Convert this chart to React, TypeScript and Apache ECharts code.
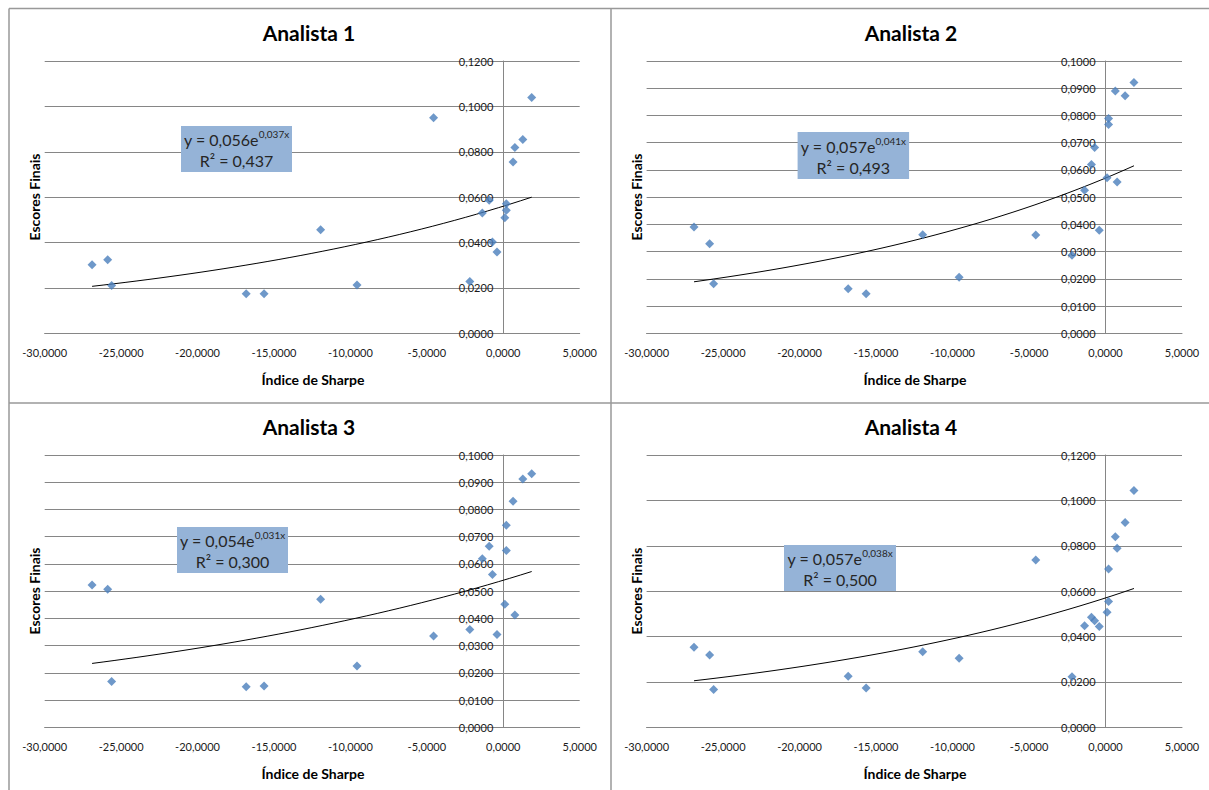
import React, { useEffect, useRef } from "react";
import * as echarts from "echarts";

// Índice de Sharpe of each fund (shared by the four panels)
const sharpe = [-26.9, -25.88, -25.62, -16.82, -15.65, -11.95, -9.57, -4.56, -2.19, -1.37, -0.92, -0.71, -0.41, 0.1, 0.2, 0.2, 0.64, 0.76, 1.28, 1.86];

// Escores finais per analyst
const analista1 = [0.0302, 0.0324, 0.0211, 0.0174, 0.0174, 0.0456, 0.0213, 0.095, 0.0228, 0.053, 0.0586, 0.0402, 0.0358, 0.0509, 0.0571, 0.0542, 0.0755, 0.0819, 0.0854, 0.1039];
const analista2 = [0.039, 0.0329, 0.0182, 0.0164, 0.0145, 0.0362, 0.0206, 0.0361, 0.0287, 0.0525, 0.062, 0.0682, 0.0378, 0.0571, 0.0789, 0.0767, 0.089, 0.0556, 0.0872, 0.0921];
const analista3 = [0.0523, 0.0507, 0.0168, 0.0149, 0.0152, 0.047, 0.0225, 0.0335, 0.0359, 0.0619, 0.0665, 0.0561, 0.0341, 0.0452, 0.0649, 0.0742, 0.083, 0.0412, 0.0912, 0.0931];
const analista4 = [0.0353, 0.0319, 0.0167, 0.0225, 0.0173, 0.0333, 0.0304, 0.0737, 0.0223, 0.0448, 0.0485, 0.047, 0.0444, 0.0507, 0.0554, 0.0698, 0.084, 0.0789, 0.0903, 0.1044];

const titles = ["Analista 1", "Analista 2", "Analista 3", "Analista 4"];
// exponential trendline y = a·e^(b·x), as printed in each chart
const trendA = [0.056, 0.057, 0.054, 0.057];
const trendB = [0.037, 0.041, 0.031, 0.038];
const trendAText = ["0,056", "0,057", "0,054", "0,057"];
const trendBText = ["0,037x", "0,041x", "0,031x", "0,038x"];
const r2Text = ["0,437", "0,493", "0,300", "0,500"];

// axis ranges
const xMin = -30;
const xMax = 5;
const xStep = 5;
const yMaxes = [0.12, 0.1, 0.1, 0.12];
const ySteps = [0.02, 0.01, 0.01, 0.02];

const series = [analista1, analista2, analista3, analista4];

const FONT = "Lato, 'Open Sans', sans-serif";

const fmt = (v: number) => v.toFixed(4).replace(".", ",");

export default function App() {
  const ref = useRef<HTMLDivElement>(null);
  useEffect(() => {
    document.body.style.margin = "0";
    if (!ref.current) return;
    const chart = echarts.init(ref.current, null, { renderer: "svg" });

    // layout of each panel (pixels)
    const gridPos = [
      { left: 44.7, top: 61, width: 535, height: 272.3 },
      { left: 646.6, top: 61, width: 535.4, height: 272.3 },
      { left: 44.7, top: 455, width: 535, height: 272.3 },
      { left: 646.6, top: 455, width: 535.4, height: 272.3 },
    ];
    const titlePos = [
      [309, 32],
      [911, 32],
      [309, 426],
      [911, 426],
    ];
    const xNamePos = [
      [313, 379],
      [915, 379],
      [313, 773],
      [915, 773],
    ];
    const yNamePos = [
      [34, 197],
      [636.6, 197],
      [34, 591],
      [636.6, 591],
    ];
    const boxPos = [
      [181, 126, 111, 46],
      [797.6, 132, 111.5, 47],
      [177, 527, 111, 46],
      [784, 545, 112, 46],
    ];

    const grids = gridPos.map((g) => ({ ...g, containLabel: false }));
    const xAxes = gridPos.map((_, i) => ({
      type: "value",
      gridIndex: i,
      min: xMin,
      max: xMax,
      interval: xStep,
      splitLine: { show: false },
      axisLine: { show: true, onZero: false, lineStyle: { color: "#868686", width: 1 } },
      axisTick: { show: false },
      axisLabel: {
        formatter: fmt,
        fontFamily: FONT,
        fontSize: 11,
        color: "#1a1a1a",
        margin: 14,
      },
    }));
    // the value axis crosses the x axis at 0: shift it from the grid's left edge
    const yAxes = gridPos.map((g, i) => ({
      type: "value",
      gridIndex: i,
      position: "left",
      offset: -(g.width * (0 - xMin)) / (xMax - xMin),
      min: 0,
      max: yMaxes[i],
      interval: ySteps[i],
      splitLine: { show: true, lineStyle: { color: "#868686", width: 1 } },
      axisLine: { show: true, onZero: false, lineStyle: { color: "#868686", width: 1 } },
      axisTick: { show: false },
      axisLabel: {
        formatter: fmt,
        fontFamily: FONT,
        fontSize: 11,
        color: "#1a1a1a",
        margin: 10,
      },
    }));

    const allSeries: any[] = [];
    series.forEach((ys, i) => {
      allSeries.push({
        type: "scatter",
        xAxisIndex: i,
        yAxisIndex: i,
        symbol: "diamond",
        symbolSize: 9,
        itemStyle: { color: "#4A7EBB" },
        data: sharpe.map((x, k) => [x, ys[k]]),
        z: 3,
      });
      const lo = Math.min(...sharpe);
      const hi = Math.max(...sharpe);
      const n = 40;
      const trend: number[][] = [];
      for (let k = 0; k <= n; k++) {
        const x = lo + ((hi - lo) * k) / n;
        trend.push([x, trendA[i] * Math.exp(trendB[i] * x)]);
      }
      allSeries.push({
        type: "line",
        xAxisIndex: i,
        yAxisIndex: i,
        showSymbol: false,
        symbol: "none",
        lineStyle: { color: "#000", width: 1 },
        data: trend,
        z: 2,
      });
    });

    const graphics: any[] = [];
    // panel borders
    const borderStyle = { stroke: "#999", lineWidth: 1.5 };
    graphics.push(
      { type: "line", shape: { x1: 9, y1: 8.5, x2: 1209, y2: 8.5 }, style: borderStyle },
      { type: "line", shape: { x1: 9, y1: 8.5, x2: 9, y2: 790 }, style: borderStyle },
      { type: "line", shape: { x1: 611, y1: 8.5, x2: 611, y2: 790 }, style: borderStyle },
      { type: "line", shape: { x1: 9, y1: 403, x2: 1209, y2: 403 }, style: borderStyle }
    );
    for (let i = 0; i < 4; i++) {
      graphics.push({
        type: "text",
        x: titlePos[i][0],
        y: titlePos[i][1],
        style: {
          text: titles[i],
          font: `bold 21px ${FONT}`,
          fill: "#000",
          align: "center",
          verticalAlign: "middle",
          textAlign: "center",
          textVerticalAlign: "middle",
        },
      });
      graphics.push({
        type: "text",
        x: xNamePos[i][0],
        y: xNamePos[i][1],
        style: {
          text: "Índice de Sharpe",
          font: `bold 14px ${FONT}`,
          fill: "#000",
          align: "center",
          verticalAlign: "middle",
          textAlign: "center",
          textVerticalAlign: "middle",
        },
      });
      graphics.push({
        type: "text",
        x: yNamePos[i][0],
        y: yNamePos[i][1],
        rotation: Math.PI / 2,
        style: {
          text: "Escores Finais",
          font: `bold 14px ${FONT}`,
          fill: "#000",
          align: "center",
          verticalAlign: "middle",
          textAlign: "center",
          textVerticalAlign: "middle",
        },
      });
      const [bx, by, bw, bh] = boxPos[i];
      graphics.push({
        type: "rect",
        shape: { x: bx, y: by, width: bw, height: bh },
        style: { fill: "#95B3D7" },
        z: 10,
      });
      graphics.push({
        type: "text",
        x: bx + bw / 2,
        y: by + bh / 2 + 1,
        z: 11,
        style: {
          text: `{m|y = ${trendAText[i]}e}{s|${trendBText[i]}}\n{m|R² = ${r2Text[i]}}`,
          align: "center",
          verticalAlign: "middle",
          textAlign: "center",
          textVerticalAlign: "middle",
          fill: "#262626",
          rich: {
            m: { fontSize: 16, fontFamily: FONT, fill: "#262626", lineHeight: 21 },
            s: { fontSize: 10, fontFamily: FONT, fill: "#262626", verticalAlign: "top" },
          },
        },
      });
    }

    chart.setOption({
      animation: false,
      backgroundColor: "#fff",
      grid: grids,
      xAxis: xAxes,
      yAxis: yAxes,
      series: allSeries,
      graphic: graphics,
    });
    return () => chart.dispose();
  }, []);
  return (
    <div
      ref={ref}
      style={{ position: "absolute", left: 0, top: 0, width: 1209, height: 790 }}
    />
  );
}
